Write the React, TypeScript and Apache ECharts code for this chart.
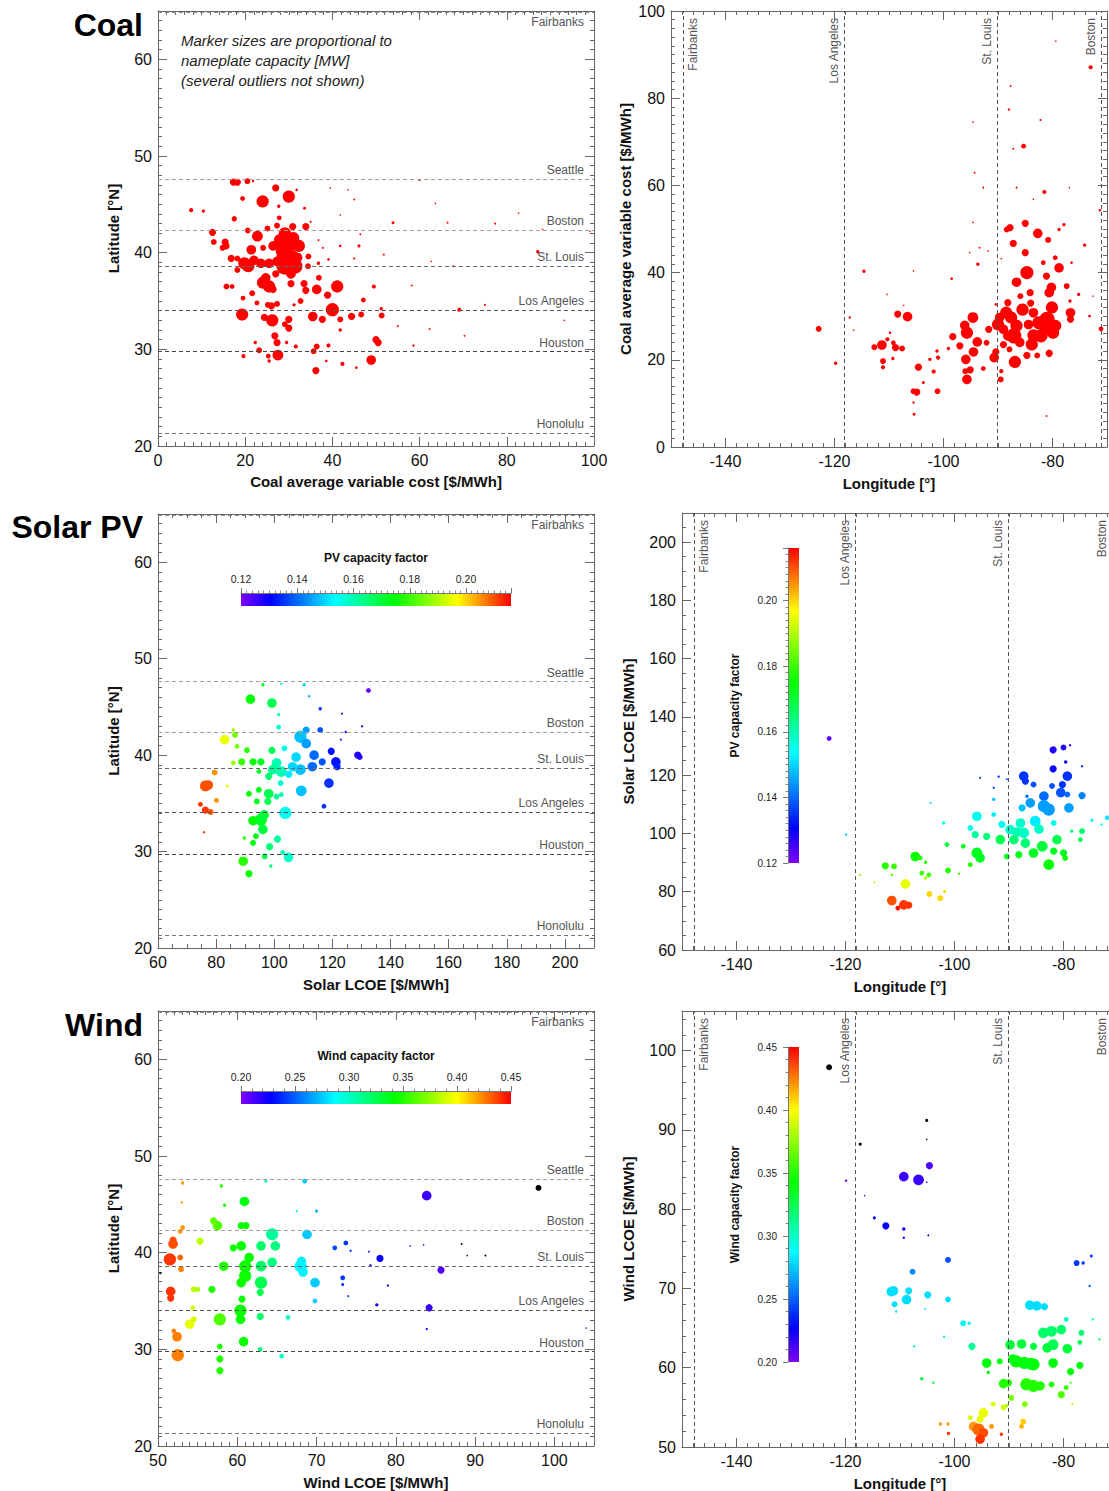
import React, { useEffect, useRef } from "react";
import * as echarts from "echarts";

const FONT = "'Liberation Sans', Arial, Helvetica, sans-serif";

// ---------- data ----------
// coal: [cost $/MWh, latitude, capacity MW]
const coalByLatitude: number[][] = [
  [30,45.8,1300],[24,45.3,1300],[27,46.7,450],[17.3,47.3,450],[18.2,47.3,450],[20.5,47.4,300],[19.4,45.6,200],[7.6,44.4,150],[10.4,44.3,100],[17.5,43.5,250],
  [12.5,42.1,450],[12.8,41.1,300],[15.4,41.1,450],[15.6,40.7,450],[14.8,40.5,300],[20.6,42.3,300],[22.8,41.7,1000],[25.1,42.5,300],[27.3,42.8,300],[27.8,43.6,200],
  [29.1,42.0,1300],[30.9,42.7,450],[28.0,41.3,1300],[26.4,40.7,800],[29.8,40.7,2000],[32.3,40.7,1300],[21.4,40.3,800],[24.1,40.5,300],[33.9,42.7,450],[16.8,39.4,450],
  [18.2,39.4,300],[19.8,38.9,1300],[20.7,38.6,1300],[23.6,38.9,800],[25.5,38.9,800],[27.3,39.1,800],[29.1,38.6,2500],[31.4,38.6,2000],[30.9,39.6,1300],[28.6,39.6,1300],
  [34.5,39.6,300],[18.2,38.2,300],[24.1,36.9,1300],[25.5,36.5,1300],[24.7,37.4,800],[26.4,36.2,450],[30.5,36.8,450],[15.7,36.5,300],[17,36.5,200],[21.6,35.8,300],
  [19.5,35.3,200],[22.7,34.8,200],[25.2,34.6,300],[26.0,34.5,450],[27.3,34.7,300],[19.3,33.6,1300],[24.4,33.3,450],[26.2,33.0,1300],[30,33.1,450],[30,32.2,450],
  [29.1,32.6,300],[26.8,31.4,450],[27.3,30.7,450],[23.2,29.9,300],[25.3,29.3,200],[27.5,29.4,1000],[19.6,29.3,150],[31.6,30.3,150],[33.5,36.8,450],[33.9,36.1,450],
  [36.4,36.2,800],[34.4,38.6,300],[36.9,37.4,300],[41.1,36.5,1300],[38.9,35.6,450],[40,34.1,1500],[35.5,33.4,800],[37.7,33.1,450],[41.8,33.1,300],[44.4,33.4,450],
  [46.6,33.6,300],[47.1,35.1,200],[49.5,36.5,150],[51.3,33.5,300],[51.2,34.2,100],[50,31.0,450],[50.5,30.7,450],[48.9,28.9,800],[36.2,27.8,450],[42.3,28.5,150],
  [36.4,30.3,300],[39.1,30.4,150],[35.7,29.8,300],[41.8,32.0,100],[69.1,34.1,150],[87.1,40.1,100],[53.9,43.1,80],[75,34.6,40],[70.3,31.4,30],[62.3,32.1,30],
  [58.6,30.4,50],[58.2,36.6,30],[77.3,43.0,30],[82.7,44.1,20],[66.4,43.1,30],[60,47.5,40],[63.6,45.1,20],[93.2,33.0,20],[99.1,42.2,20],[88.2,42.4,20],
  [67.7,38.6,30],[62.7,39.1,20],[51.8,39.8,30],[55,32.4,30],[45,45.5,30],[43.6,46.5,20],[39.5,46.7,20],[41.8,43.9,20],[46.1,40.7,80],[41.8,40.7,60],
  [45,39.4,40],[46.4,41.9,30],[37.8,40.5,40],[36.8,41.3,30],[35.0,43.2,40],[33.6,44.6,80],[27.7,44.8,100],[31.8,46.5,60],[21.8,47.4,50],[36.8,38.9,100],
  [39.1,39.3,60],[32.7,35.0,300],[31.2,34.6,100],[22.3,30.7,100],[29.5,30.7,100],[25.5,28.8,100],[38.6,28.8,60],[45.5,28.1,60],
  [31,41.5,1300],[28.5,40.2,1500],[30.5,37.8,800],[27,37.8,450],[22,39.2,800],[32,39.5,800]
];

// coal: [longitude, cost $/MWh, capacity MW]
const coalByLongitude: number[][] = [
  [-122.9,27.1,300],[-119.8,19.2,100],[-114.6,40.3,100],[-117.2,29.7,50],[-116.5,26.8,20],[-112.7,22.9,300],[-111.3,23.4,800],[-111.1,19.7,300],[-111.1,18.3,150],[-110.3,24.7,150],
  [-109.2,23.9,200],[-108.8,22.8,450],[-107.6,22.6,300],[-108.4,30.5,450],[-106.6,29.9,800],[-109.3,20.3,100],[-109.8,26.2,60],[-104.9,12.6,450],[-105.5,12.8,300],[-104.6,18.3,450],
  [-105.4,7.5,80],[-105.5,10.2,50],[-101.1,12.8,300],[-103.7,14.8,80],[-102.5,20.1,100],[-101.8,17.3,150],[-101.2,22.0,100],[-101.0,20.5,150],[-99.1,22.6,100],[-98.3,25.3,450],
  [-98.5,38.6,60],[-97.0,23.2,450],[-95.7,26.2,1300],[-96.1,27.9,800],[-94.6,29.7,1000],[-95.9,20.1,800],[-94.5,21.8,800],[-93.8,24.1,800],[-95.1,17.7,450],[-95.7,15.5,800],
  [-96.0,17.4,300],[-92.7,18.0,200],[-91.7,27.0,450],[-92.1,23.9,300],[-90.7,20.5,800],[-90.4,21.8,450],[-89.5,15.5,300],[-89.4,17.4,150],[-90.0,28.1,1300],[-89.7,29.7,800],
  [-88.5,30.8,1300],[-87.6,29.7,1300],[-88.2,33.1,450],[-86.6,27.8,1300],[-87.1,25.5,2000],[-88.2,25.5,800],[-86.9,19.5,1300],[-87.9,22.4,300],[-89.0,23.5,450],[-87.8,50.3,450],
  [-88.4,49.9,300],[-87.2,46.7,450],[-85.0,51.3,450],[-82.7,49.0,800],[-85.0,44.6,450],[-84.7,40.0,1500],[-86.6,37.8,800],[-85.9,34.6,300],[-84.1,35.4,450],[-83.5,30.8,800],
  [-84.4,28.1,800],[-83.5,25.6,1300],[-82.1,25.5,1500],[-83.8,23.5,1300],[-84.7,21.0,450],[-82.8,21.0,300],[-81.3,27.0,1300],[-81.0,29.3,2000],[-80.1,32.0,1300],[-80.6,35.4,800],
  [-80.2,36.6,800],[-81.1,39.2,450],[-81.7,42.3,200],[-80.8,47.5,300],[-79.5,27.8,1300],[-79.9,26.2,1300],[-80.6,21.5,450],[-78.8,41.1,800],[-79.5,43.4,200],[-78.8,49.9,100],
  [-77.9,51.0,100],[-77.4,36.9,300],[-76.7,30.8,800],[-76.7,29.3,450],[-76.8,33.5,100],[-74.1,46.3,100],[-73.0,87.1,150],[-85.3,69.0,200],[-81.5,58.5,150],[-82.2,75.0,40],
  [-88.0,77.4,50],[-87.7,82.8,30],[-79.4,93.1,20],[-94.6,74.5,20],[-94.3,62.9,30],[-92.7,59.5,30],[-87.2,68.4,30],[-83.5,56.8,20],[-76.9,59.5,20],[-71.3,54.3,60],
  [-71.1,27.1,200],[-73.2,30.0,60],[-72.6,34.6,20],[-75.2,35.0,100],[-76.5,42.3,60],[-81.1,7.1,30],[-93.7,41.9,100],[-93.4,45.7,30],[-94.6,51.5,20],[-91.8,45.0,20],
  [-90.4,32.7,60],[-105.5,40.4,20],[-110.4,35.0,20],[-107.3,32.5,20],[-95.2,44.6,20],[-89.4,43.2,20],[-86.6,59.5,30],
  [-85.5,31.5,1300],[-82.5,28.5,1500],[-86.0,24.0,800],[-89.0,27.0,800],[-84.0,33.0,450]
];

// solar: [LCOE $/MWh, latitude, capacity MW, capacity factor]
const solarByLatitude: number[][] = [
  [132.4,46.7,200,0.122],[130.2,43.0,50,0.125],[128.7,40.0,450,0.128],[129.4,39.8,300,0.128],[124.6,42.4,50,0.13],[122.9,41.6,30,0.13],[123.3,44.3,30,0.13],
  [119.6,40.4,450,0.132],[121.2,39.3,800,0.132],[121.6,38.8,450,0.133],[118.8,37.1,800,0.135],[117.1,34.7,200,0.135],[115.8,44.8,100,0.135],[115.8,42.6,300,0.138],
  [113.7,40.0,800,0.14],[113.1,38.8,800,0.14],[116.5,39.3,450,0.138],[111.0,42.6,450,0.145],[109.0,41.9,1300,0.148],[111.0,41.2,800,0.145],[109.0,38.5,1000,0.148],
  [106.3,38.8,800,0.15],[109.3,36.3,1000,0.148],[103.8,34.0,1300,0.155],[110.3,47.3,100,0.15],[112.0,46.1,50,0.145],[102.4,47.4,50,0.155],[101.5,44.2,100,0.158],
  [101.5,42.9,200,0.158],[103.5,40.7,300,0.155],[100.8,39.2,800,0.16],[102.4,38.3,1000,0.16],[99.5,38.5,800,0.162],[98.1,37.8,450,0.165],[102.2,37.1,300,0.158],
  [100.8,35.7,300,0.162],[102.4,35.9,200,0.16],[99.2,45.4,800,0.168],[99.2,40.5,450,0.168],[96.1,47.3,100,0.172],[91.8,45.8,800,0.175],[90.6,40.5,300,0.178],
  [88.8,39.3,450,0.18],[92.7,39.3,450,0.175],[95.4,39.3,450,0.172],[94.7,38.3,200,0.172],[91.3,36.0,300,0.175],[94.7,36.4,300,0.172],[98.1,36.0,800,0.168],
  [97.8,35.2,450,0.168],[94.0,35.2,300,0.172],[92.7,33.2,800,0.175],[95.4,33.3,1300,0.172],[96.1,32.3,800,0.17],[93.7,31.6,300,0.172],[92.7,30.9,300,0.175],
  [89.7,31.4,100,0.178],[98.4,30.5,450,0.165],[101.1,31.3,450,0.162],[96.7,29.5,300,0.168],[102.9,29.9,200,0.16],[104.9,29.4,800,0.158],[89.3,29.0,800,0.178],
  [91.3,27.7,450,0.175],[98.8,28.5,100,0.165],[86.5,42.1,300,0.185],[82.9,41.6,800,0.195],[87.2,40.9,200,0.185],[85.9,39.2,200,0.188],[79.5,38.2,300,0.205],
  [76.3,36.8,1000,0.21],[77.3,36.9,800,0.21],[74.6,34.9,200,0.212],[76.3,34.3,450,0.212],[78.1,34.1,300,0.21],[80.1,35.3,200,0.205],[75.8,32.0,50,0.212],
  [83.8,36.8,80,0.195],[85.9,42.6,100,0.188],[107.5,39.8,800,0.15],[105.0,38.0,450,0.152],[96.5,33.8,800,0.17]
];

// solar: [longitude, LCOE $/MWh, capacity MW, capacity factor]
const solarByLongitude: number[][] = [
  [-123.0,132.6,200,0.122],[-119.9,99.6,50,0.15],[-117.3,85.8,30,0.185],[-114.7,83.2,30,0.19],[-112.7,88.9,450,0.178],[-111.1,88.7,300,0.18],[-111.5,85.8,50,0.18],
  [-109.0,82.7,800,0.195],[-111.5,77.0,800,0.21],[-110.4,74.4,200,0.215],[-109.3,75.5,800,0.212],[-108.4,75.4,450,0.212],[-107.2,92.1,800,0.175],[-106.3,91.6,200,0.178],
  [-105.3,90.1,100,0.178],[-106.0,86.4,200,0.18],[-104.7,85.8,200,0.18],[-105.3,84.7,100,0.19],[-104.6,79.2,300,0.2],[-102.6,77.8,300,0.2],[-101.8,80.1,80,0.2],
  [-101.2,87.3,300,0.178],[-99.2,86.2,50,0.18],[-101.4,96.2,200,0.17],[-102.0,103.6,100,0.155],[-104.4,110.5,30,0.15],[-98.4,95.6,200,0.172],[-97.1,89.3,200,0.178],
  [-95.9,93.3,1000,0.172],[-95.3,91.6,800,0.172],[-96.2,99.6,450,0.162],[-95.9,105.9,800,0.155],[-97.1,101.9,300,0.155],[-94.1,99.0,450,0.165],[-92.8,106.5,200,0.152],
  [-92.8,111.7,100,0.148],[-92.8,115.7,50,0.138],[-91.9,119.5,50,0.135],[-91.6,97.9,800,0.168],[-91.3,103.1,450,0.155],[-90.4,92.1,300,0.172],[-89.8,101.3,800,0.158],
  [-89.1,97.9,800,0.165],[-88.2,92.7,450,0.172],[-87.9,103.6,800,0.158],[-87.3,100.2,1000,0.158],[-87.0,96.7,800,0.165],[-87.6,108.8,450,0.148],[-87.3,119.7,800,0.135],
  [-87.0,118.0,450,0.135],[-85.5,116.8,300,0.138],[-86.7,112.8,100,0.14],[-86.1,110.5,800,0.145],[-85.2,104.2,1000,0.152],[-85.5,93.3,800,0.172],[-83.9,95.6,1000,0.17],
  [-82.7,89.3,1000,0.175],[-83.6,112.8,800,0.14],[-83.6,109.4,1300,0.145],[-82.7,108.2,1300,0.145],[-82.1,116.3,300,0.138],[-81.9,122.2,450,0.13],[-81.9,128.7,450,0.128],
  [-80.0,129.5,300,0.128],[-78.8,130.3,50,0.128],[-79.6,124.5,100,0.13],[-80.2,116.8,450,0.135],[-79.3,119.7,800,0.135],[-80.5,114.0,800,0.138],[-79.3,113.4,300,0.14],
  [-79.0,108.8,800,0.145],[-81.8,103.6,300,0.155],[-81.2,97.9,800,0.168],[-81.8,93.9,450,0.172],[-80.0,93.3,450,0.172],[-79.7,91.6,300,0.175],[-76.6,113.0,450,0.142],
  [-76.6,123.1,50,0.135],[-76.6,100.8,300,0.165],[-76.9,97.9,200,0.168],[-78.5,100.8,100,0.165],[-74.8,104.5,80,0.155],[-73.0,103.1,50,0.155],[-72.0,105.4,200,0.152],
  [-95.3,119.1,30,0.135],[-90.4,118.6,30,0.135],[-88.5,100.5,800,0.16],[-84.5,101.5,800,0.158]
];

// wind: [LCOE $/MWh, latitude, capacity MW, capacity factor]
const windByLatitude: number[][] = [
  [98.0,46.7,300,0.15],[83.9,45.9,800,0.215],[85.7,38.2,450,0.21],[84.2,34.3,450,0.215],[83.9,32.1,50,0.215],[78.0,39.4,450,0.225],[77.6,34.6,100,0.22],
  [79.0,36.6,50,0.22],[76.8,38.7,50,0.22],[76.6,40.1,30,0.22],[88.3,40.9,30,0.15],[91.3,39.7,30,0.15],[89.0,39.7,15,0.18],[83.5,40.8,15,0.22],[81.8,40.7,15,0.22],
  [73.7,41.0,200,0.24],[72.3,40.5,200,0.245],[73.3,37.4,200,0.24],[73.3,36.7,80,0.24],[74.3,40.2,50,0.24],[74.0,35.5,30,0.24],[69.8,36.9,800,0.275],[69.8,35.0,200,0.275],
  [68.0,38.6,1300,0.285],[68.1,39.1,800,0.285],[68.3,38.0,800,0.285],[68.8,41.9,800,0.275],[68.5,47.4,200,0.275],[70.0,44.3,80,0.27],[67.5,44.3,50,0.29],
  [64.4,41.9,1300,0.31],[64.8,40.7,800,0.315],[64.4,39.0,800,0.315],[63.0,40.7,800,0.32],[63.0,38.6,1000,0.32],[63.0,36.9,1300,0.325],[62.9,35.9,450,0.325],
  [62.9,33.4,450,0.32],[62.9,30.0,200,0.315],[66.4,33.3,200,0.3],[65.6,29.3,200,0.3],[63.6,47.4,80,0.31],[60.9,45.3,800,0.34],[60.5,42.8,450,0.345],[61.1,42.8,450,0.345],
  [60.5,40.7,800,0.345],[61.0,38.6,1300,0.345],[61.0,37.6,1300,0.345],[60.5,36.9,800,0.345],[60.6,35.2,450,0.345],[60.4,34.0,1300,0.345],[60.4,33.1,800,0.345],
  [60.8,30.8,800,0.345],[59.5,40.5,450,0.345],[58.3,38.6,800,0.35],[56.8,36.2,450,0.35],[57.5,42.8,800,0.36],[57.8,33.1,1300,0.36],[57.8,30.3,300,0.35],
  [57.8,29.0,450,0.35],[57.8,27.8,450,0.35],[58.0,46.9,100,0.35],[58.4,44.9,100,0.35],[55.3,41.2,450,0.385],[54.5,36.2,300,0.385],[54.0,32.6,800,0.395],
  [54.5,33.1,300,0.39],[54.4,34.3,200,0.39],[55.0,36.2,200,0.38],[52.8,42.2,200,0.42],[53.1,42.6,200,0.42],[51.9,40.9,800,0.435],[51.9,41.3,450,0.435],
  [51.5,39.3,1300,0.44],[52.8,39.5,300,0.43],[52.9,38.3,300,0.425],[51.6,36.0,800,0.44],[51.6,35.3,450,0.44],[52.4,31.3,800,0.425],[52.0,31.9,200,0.425],
  [52.5,29.4,1300,0.425],[53.1,47.2,100,0.42],[53.0,45.2,50,0.42],[50.3,37.9,50,0.45],[104.0,32.2,15,0.22],[61.5,39.5,800,0.345],[57.0,43.3,450,0.365]
];

// wind: [longitude, LCOE $/MWh, capacity MW, capacity factor]
const windByLongitude: number[][] = [
  [-123.0,97.9,300,0.15],[-117.3,88.2,80,0.15],[-105.1,91.2,80,0.15],[-105.1,88.8,15,0.15],[-119.9,83.6,50,0.21],[-116.5,81.7,15,0.21],[-109.3,84.1,800,0.215],
  [-106.6,83.7,1000,0.215],[-104.6,85.5,450,0.21],[-105.1,83.4,15,0.215],[-114.7,78.9,80,0.225],[-112.6,77.9,450,0.225],[-109.3,77.5,100,0.225],[-109.3,76.4,50,0.225],
  [-104.8,76.7,30,0.225],[-101.2,73.6,300,0.245],[-107.7,72.1,300,0.26],[-111.2,69.7,800,0.28],[-111.6,69.6,800,0.28],[-108.4,69.7,450,0.28],[-108.8,68.6,800,0.28],
  [-111.0,68.0,300,0.28],[-104.9,69.2,450,0.28],[-101.2,68.6,300,0.28],[-110.7,67.1,50,0.28],[-105.4,67.4,30,0.28],[-98.4,65.6,300,0.29],[-97.3,65.6,100,0.29],
  [-96.8,62.7,450,0.31],[-101.9,63.9,50,0.31],[-107.4,62.7,50,0.31],[-106.0,58.6,100,0.33],[-103.9,58.1,50,0.33],[-94.1,60.6,800,0.34],[-91.7,60.8,300,0.34],
  [-93.8,59.4,100,0.34],[-91.0,58.0,800,0.35],[-90.1,58.1,450,0.35],[-89.8,62.9,800,0.33],[-87.7,63.0,800,0.33],[-85.5,62.7,450,0.33],[-88.7,60.8,1300,0.34],
  [-87.2,60.6,1300,0.34],[-85.5,60.4,1300,0.34],[-89.3,61.1,800,0.34],[-81.9,60.6,800,0.34],[-83.7,64.4,1000,0.32],[-82.2,64.6,1000,0.32],[-80.4,64.8,800,0.32],
  [-81.9,62.9,1000,0.325],[-79.3,62.4,800,0.33],[-78.7,59.5,450,0.34],[-77.0,60.3,450,0.34],[-76.7,64.4,300,0.32],[-77.0,63.2,200,0.325],[-79.5,66.1,200,0.3],
  [-86.2,67.9,800,0.28],[-84.9,67.8,800,0.28],[-83.5,67.7,450,0.28],[-77.6,73.2,300,0.24],[-76.4,73.2,100,0.24],[-74.9,74.1,80,0.24],[-75.2,70.3,50,0.25],
  [-74.6,66.1,50,0.3],[-73.4,63.6,50,0.32],[-86.8,57.9,1300,0.35],[-85.5,57.7,1300,0.35],[-84.3,57.7,800,0.35],[-82.2,57.9,300,0.35],[-80.4,56.6,450,0.36],
  [-79.5,57.5,200,0.355],[-87.1,55.4,300,0.37],[-89.6,56.2,300,0.37],[-91.0,55.0,300,0.39],[-92.9,55.4,200,0.39],[-94.7,54.3,800,0.395],[-95.3,53.5,450,0.395],
  [-97.1,53.7,200,0.39],[-96.5,52.6,800,0.42],[-95.6,52.2,1300,0.43],[-94.7,51.8,800,0.435],[-95.3,51.0,800,0.44],[-93.2,52.6,200,0.42],[-91.4,51.6,100,0.44],
  [-101.1,51.7,100,0.44],[-102.6,52.9,100,0.42],[-101.2,52.9,100,0.42],[-87.4,53.2,300,0.41],[-87.7,52.6,200,0.415],[-90.4,55.2,100,0.38],[-78.7,58.1,30,0.35],
  [-78.4,55.4,30,0.38],[-86.0,60.5,1300,0.34],[-83.0,62.5,800,0.33]
];

const cityNamesLat = ["Fairbanks", "Seattle", "Boston", "St. Louis", "Los Angeles", "Houston", "Honolulu"];
const cityLatValues = [64.84, 47.61, 42.36, 38.63, 34.05, 29.76, 21.31];
const cityNamesLon = ["Fairbanks", "Los Angeles", "St. Louis", "Boston"];
const cityLonValues = [-147.72, -118.24, -90.2, -71.06];

const pvCfTicks = { min: 0.12, max: 0.216, step: 0.02 };
const windCfTicks = { min: 0.2, max: 0.45, step: 0.05 };

// ---------- styles ----------
const latLineColor: Record<string, string> = {
  Fairbanks: "#888", Seattle: "#a0a0a0", Boston: "#a0a0a0", "St. Louis": "#666",
  "Los Angeles": "#555", Houston: "#444", Honolulu: "#777",
};
const axisColor = "#666";
const rainbowStops: [number, string][] = [
  [0, "#8000ff"], [0.11, "#0000ff"], [0.35, "#00ffff"], [0.57, "#00ff00"], [0.8, "#ffff00"], [1, "#ff0000"],
];

function hexToRgb(h: string) {
  return [parseInt(h.slice(1, 3), 16), parseInt(h.slice(3, 5), 16), parseInt(h.slice(5, 7), 16)];
}
function rainbowAt(t: number) {
  for (let i = 1; i < rainbowStops.length; i++) {
    const [t1, c1] = rainbowStops[i];
    const [t0, c0] = rainbowStops[i - 1];
    if (t <= t1) {
      const f = (t - t0) / (t1 - t0);
      const a = hexToRgb(c0), b = hexToRgb(c1);
      const r = a.map((v, k) => Math.round(v + (b[k] - v) * f));
      return `rgb(${r[0]},${r[1]},${r[2]})`;
    }
  }
  return rainbowStops[rainbowStops.length - 1][1];
}
const rainbowSamples = Array.from({ length: 51 }, (_, i) => rainbowAt(i / 50));
const sizeOf = (v: number[]) => Math.max(1.5, Math.sqrt(v[2]) * 0.34);

function mainAxis(o: any) {
  return {
    type: "value",
    gridIndex: o.grid,
    position: o.position,
    min: o.min,
    max: o.max,
    interval: o.interval,
    splitNumber: o.splitNumber,
    name: o.name,
    nameLocation: "middle",
    nameGap: o.nameGap,
    nameTextStyle: { fontFamily: FONT, fontSize: 15, fontWeight: "bold", color: "#111" },
    axisLine: { show: true, onZero: false, lineStyle: { color: axisColor, width: 1 } },
    axisTick: { show: true, inside: true, length: 9, lineStyle: { color: axisColor } },
    minorTick: { show: true, splitNumber: o.minor, length: 4, lineStyle: { color: axisColor } },
    axisLabel: {
      show: !!o.labels,
      fontFamily: FONT,
      fontSize: 16,
      color: "#111",
      margin: 6,
      showMinLabel: o.hideMin ? false : true,
      showMaxLabel: o.hideMax ? false : true,
    },
    splitLine: { show: false },
    minorSplitLine: { show: false },
  };
}

function cbAxis(o: any) {
  return {
    type: "value",
    gridIndex: o.grid,
    position: o.position,
    min: o.min,
    max: o.max,
    interval: o.interval,
    name: o.name,
    nameLocation: "middle",
    nameGap: o.nameGap,
    nameTextStyle: { fontFamily: FONT, fontSize: 12, fontWeight: "bold", color: "#111" },
    axisLine: { show: true, onZero: false, lineStyle: { color: "#777", width: 1 } },
    axisTick: { show: true, inside: false, length: 5, lineStyle: { color: "#777" } },
    minorTick: { show: true, splitNumber: o.minor, length: 2.5, lineStyle: { color: "#888" } },
    axisLabel: {
      show: true,
      fontFamily: FONT,
      fontSize: o.fontSize,
      color: "#222",
      margin: o.margin,
      showMaxLabel: o.hideMax ? false : true,
      formatter: (v: number) => v.toFixed(2),
    },
    splitLine: { show: false },
  };
}

function latLines() {
  return {
    symbol: ["none", "none"],
    silent: true,
    data: cityNamesLat.map((n, i) => ({
      name: n,
      yAxis: cityLatValues[i],
      lineStyle: { color: latLineColor[n], type: [4, 3], width: 1 },
      label: {
        show: true,
        formatter: "{b}",
        position: n === "Fairbanks" ? "insideEndBottom" : "insideEndTop",
        distance: [10, 3],
        fontFamily: FONT,
        fontSize: 12,
        color: "#555",
      },
    })),
  };
}

function lonLines() {
  return {
    symbol: ["none", "none"],
    silent: true,
    data: cityNamesLon.map((n, i) => ({
      name: n,
      xAxis: cityLonValues[i],
      lineStyle: { color: "#555", type: [4, 3], width: 1 },
      label: {
        show: true,
        formatter: "{b}",
        position: n === "Fairbanks" ? "insideEndBottom" : "insideEndTop",
        distance: [7, 4],
        fontFamily: FONT,
        fontSize: 12,
        color: "#555",
      },
    })),
  };
}

function buildOption() {
  const grids = [
    { left: 158, top: 11, width: 436, height: 435 },
    { left: 671, top: 11, width: 436, height: 436 },
    { left: 158, top: 514, width: 436, height: 434 },
    { left: 682, top: 513, width: 436, height: 437 },
    { left: 158, top: 1011, width: 436, height: 435 },
    { left: 682, top: 1011, width: 436, height: 436 },
    { left: 241, top: 593, width: 270, height: 13 },
    { left: 788, top: 548, width: 11, height: 315 },
    { left: 241, top: 1091, width: 270, height: 13 },
    { left: 788, top: 1047, width: 11, height: 315 },
  ].map((g, i) => ({
    ...g,
    containLabel: false,
    outerBoundsMode: "none",
    show: i >= 6,
    borderWidth: 0,
    backgroundColor:
      i >= 6
        ? i % 2 === 0
          ? new echarts.graphic.LinearGradient(0, 0, 1, 0, rainbowStops.map(([o, c]) => ({ offset: o, color: c })))
          : new echarts.graphic.LinearGradient(0, 1, 0, 0, rainbowStops.map(([o, c]) => ({ offset: o, color: c })))
        : "transparent",
  }));

  const lat = { min: 20, max: 65, interval: 10, minor: 10 };
  const lon = { min: -150, max: -70, splitNumber: 4, minor: 10, hideMin: true, hideMax: true };

  const xAxis: any[] = [
    mainAxis({ grid: 0, position: "bottom", min: 0, max: 100, interval: 20, minor: 10, labels: true, name: "Coal average variable cost [$/MWh]", nameGap: 28 }),
    mainAxis({ grid: 0, position: "top", min: 0, max: 100, interval: 20, minor: 10 }),
    mainAxis({ grid: 1, position: "bottom", ...lon, labels: true, name: "Longitude [°]", nameGap: 29 }),
    mainAxis({ grid: 1, position: "top", ...lon }),
    mainAxis({ grid: 2, position: "bottom", min: 60, max: 210, interval: 20, minor: 4, labels: true, hideMax: true, name: "Solar LCOE [$/MWh]", nameGap: 29 }),
    mainAxis({ grid: 2, position: "top", min: 60, max: 210, interval: 20, minor: 4 }),
    mainAxis({ grid: 3, position: "bottom", ...lon, labels: true, name: "Longitude [°]", nameGap: 29 }),
    mainAxis({ grid: 3, position: "top", ...lon }),
    mainAxis({ grid: 4, position: "bottom", min: 50, max: 105, interval: 10, minor: 10, labels: true, hideMax: true, name: "Wind LCOE [$/MWh]", nameGap: 29 }),
    mainAxis({ grid: 4, position: "top", min: 50, max: 105, interval: 10, minor: 10 }),
    mainAxis({ grid: 5, position: "bottom", ...lon, labels: true, name: "Longitude [°]", nameGap: 29 }),
    mainAxis({ grid: 5, position: "top", ...lon }),
    cbAxis({ grid: 6, position: "top", min: pvCfTicks.min, max: pvCfTicks.max, interval: pvCfTicks.step, minor: 10, fontSize: 10.5, margin: 9, hideMax: true, name: "PV capacity factor", nameGap: 29 }),
    { type: "value", gridIndex: 7, show: false, min: 0, max: 1 },
    cbAxis({ grid: 8, position: "top", min: windCfTicks.min, max: windCfTicks.max, interval: windCfTicks.step, minor: 5, fontSize: 10.5, margin: 9, name: "Wind capacity factor", nameGap: 29 }),
    { type: "value", gridIndex: 9, show: false, min: 0, max: 1 },
  ];

  const yAxis: any[] = [
    mainAxis({ grid: 0, position: "left", ...lat, labels: true, hideMax: true, name: "Latitude [°N]", nameGap: 37 }),
    mainAxis({ grid: 0, position: "right", ...lat }),
    mainAxis({ grid: 1, position: "left", min: 0, max: 100, interval: 20, minor: 10, labels: true, name: "Coal average variable cost [$/MWh]", nameGap: 38 }),
    mainAxis({ grid: 1, position: "right", min: 0, max: 100, interval: 20, minor: 10 }),
    mainAxis({ grid: 2, position: "left", ...lat, labels: true, hideMax: true, name: "Latitude [°N]", nameGap: 37 }),
    mainAxis({ grid: 2, position: "right", ...lat }),
    mainAxis({ grid: 3, position: "left", min: 60, max: 210, interval: 20, minor: 4, labels: true, hideMax: true, name: "Solar LCOE [$/MWh]", nameGap: 46 }),
    mainAxis({ grid: 3, position: "right", min: 60, max: 210, interval: 20, minor: 4 }),
    mainAxis({ grid: 4, position: "left", ...lat, labels: true, hideMax: true, name: "Latitude [°N]", nameGap: 37 }),
    mainAxis({ grid: 4, position: "right", ...lat }),
    mainAxis({ grid: 5, position: "left", min: 50, max: 105, interval: 10, minor: 5, labels: true, hideMax: true, name: "Wind LCOE [$/MWh]", nameGap: 46 }),
    mainAxis({ grid: 5, position: "right", min: 50, max: 105, interval: 10, minor: 5 }),
    { type: "value", gridIndex: 6, show: false, min: 0, max: 1 },
    cbAxis({ grid: 7, position: "left", min: pvCfTicks.min, max: pvCfTicks.max, interval: pvCfTicks.step, minor: 10, fontSize: 10, margin: 11, hideMax: true, name: "PV capacity factor", nameGap: 47 }),
    { type: "value", gridIndex: 8, show: false, min: 0, max: 1 },
    cbAxis({ grid: 9, position: "left", min: windCfTicks.min, max: windCfTicks.max, interval: windCfTicks.step, minor: 5, fontSize: 10, margin: 11, name: "Wind capacity factor", nameGap: 47 }),
  ];

  const scatter = (g: number, data: number[][], color?: string) => ({
    type: "scatter",
    xAxisIndex: 2 * g,
    yAxisIndex: 2 * g,
    data,
    symbol: "circle",
    symbolSize: sizeOf,
    itemStyle: color ? { color, opacity: 1 } : { opacity: 1 },
    silent: true,
    clip: true,
  });
  const refSeries = (g: number, ml: any) => ({
    type: "scatter",
    xAxisIndex: 2 * g,
    yAxisIndex: 2 * g,
    data: [],
    silent: true,
    markLine: ml,
  });

  const series: any[] = [
    refSeries(0, latLines()),
    refSeries(1, lonLines()),
    refSeries(2, latLines()),
    refSeries(3, lonLines()),
    refSeries(4, latLines()),
    refSeries(5, lonLines()),
    scatter(0, coalByLatitude, "#ff0000"),
    scatter(1, coalByLongitude, "#ff0000"),
    scatter(2, solarByLatitude),
    scatter(3, solarByLongitude),
    scatter(4, windByLatitude),
    scatter(5, windByLongitude),
  ];

  // range slightly inside [min, max] so values beyond the scale count as out of range (drawn black)
  const visualMap = [
    {
      type: "continuous", show: false, seriesIndex: [8, 9], dimension: 3,
      min: pvCfTicks.min, max: pvCfTicks.max, range: [pvCfTicks.min + 0.0001, pvCfTicks.max - 0.0001],
      inRange: { color: rainbowSamples }, outOfRange: { color: "#000" },
    },
    {
      type: "continuous", show: false, seriesIndex: [10, 11], dimension: 3,
      min: windCfTicks.min, max: windCfTicks.max, range: [windCfTicks.min + 0.0001, windCfTicks.max - 0.0001],
      inRange: { color: rainbowSamples }, outOfRange: { color: "#000" },
    },
  ];

  const title = (text: string, y: number) => ({
    type: "text",
    style: { text, x: 143, y, align: "right", verticalAlign: "middle", fontFamily: FONT, fontSize: 32, fontWeight: "bold", fill: "#000" },
  });

  const graphic = [
    title("Coal", 25),
    title("Solar PV", 527),
    title("Wind", 1025),
    {
      type: "text",
      style: {
        text: "Marker sizes are proportional to\nnameplate capacity [MW]\n(several outliers not shown)",
        x: 181, y: 30, fontFamily: FONT, fontSize: 15, fontStyle: "italic", lineHeight: 20, fill: "#222",
        align: "left", verticalAlign: "top",
      },
    },
  ];

  return {
    animation: false,
    backgroundColor: "#fff",
    textStyle: { fontFamily: FONT },
    grid: grids,
    xAxis,
    yAxis,
    visualMap,
    series,
    graphic,
  };
}

export default function App() {
  const ref = useRef<HTMLDivElement>(null);
  useEffect(() => {
    document.body.style.margin = "0";
    if (!ref.current) return;
    const chart = echarts.init(ref.current, undefined, { renderer: "svg" });
    chart.setOption(buildOption() as any);
    return () => chart.dispose();
  }, []);
  return <div ref={ref} style={{ width: 1109, height: 1491 }} />;
}
